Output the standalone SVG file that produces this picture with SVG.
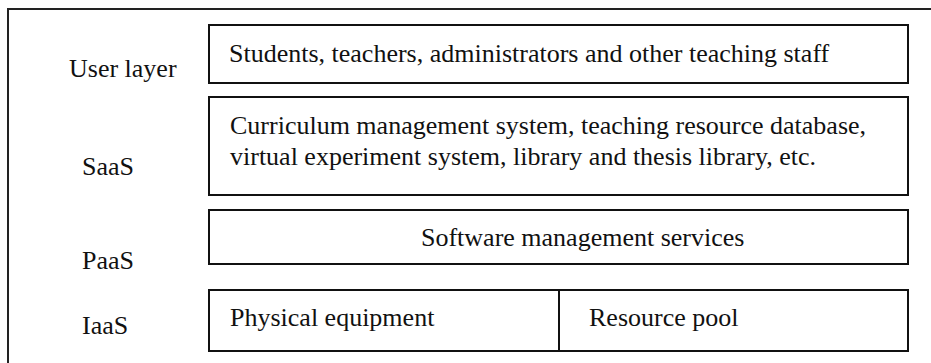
<svg xmlns="http://www.w3.org/2000/svg" width="931" height="363" viewBox="0 0 931 363">
  <style>
    .frame { fill: none; stroke: #222; stroke-width: 2; }
    .box { fill: #fff; stroke: #111; stroke-width: 2; }
    .rule { stroke: #111; stroke-width: 2; }
    .t { font-family: "Liberation Serif", "Times New Roman", serif; font-size: 26px; fill: #111; }
  </style>
  <rect width="931" height="363" fill="#fff"/>

  <!-- outer frame, running off the right and bottom edges -->
  <path class="frame" d="M8,363 V9 H931"/>

  <!-- layer names -->
  <g id="labels">
    <text class="t" x="69" y="77">User layer</text>
    <text class="t" x="82" y="175">SaaS</text>
    <text class="t" x="82" y="269">PaaS</text>
    <text class="t" x="82" y="334">IaaS</text>
  </g>

  <g id="user-layer">
    <rect class="box" x="209" y="25" width="699" height="58"/>
    <text class="t" x="229" y="62">Students, teachers, administrators and other teaching staff</text>
  </g>

  <g id="saas">
    <rect class="box" x="209" y="97" width="699" height="98"/>
    <text class="t" x="230" y="134">Curriculum management system, teaching resource database,</text>
    <text class="t" x="230" y="165">virtual experiment system, library and thesis library, etc.</text>
  </g>

  <g id="paas">
    <rect class="box" x="209" y="210" width="699" height="54"/>
    <text class="t" x="421" y="246">Software management services</text>
  </g>

  <g id="iaas">
    <rect class="box" x="209" y="290" width="699" height="61"/>
    <line class="rule" x1="559" y1="290" x2="559" y2="351"/>
    <text class="t" x="230" y="326">Physical equipment</text>
    <text class="t" x="589" y="326">Resource pool</text>
  </g>
</svg>
